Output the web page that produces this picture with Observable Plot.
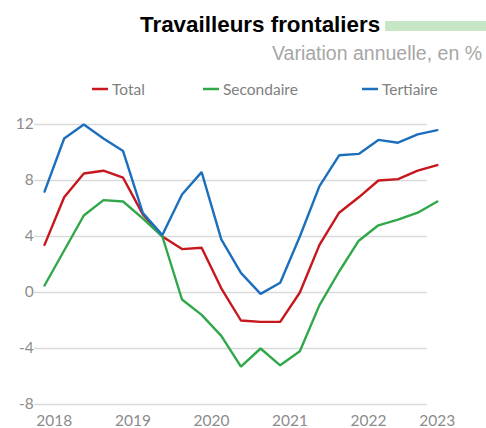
<!DOCTYPE html>
<html><head><meta charset="utf-8">
<script src="https://cdn.jsdelivr.net/npm/d3@7"></script>
<script src="https://cdn.jsdelivr.net/npm/@observablehq/plot@0.6"></script>
<style>
body{margin:0;background:#fff}
#wrap{position:relative;width:486px;height:428px;overflow:hidden}
#wrap svg{position:absolute;left:0;top:0}
</style>
</head><body><div id="wrap"></div>
<script>
const quarters = ["2018T1","2018T2","2018T3","2018T4","2019T1","2019T2","2019T3","2019T4","2020T1","2020T2","2020T3","2020T4","2021T1","2021T2","2021T3","2021T4","2022T1","2022T2","2022T3","2022T4","2023T1"];
const total      = [3.4, 6.8, 8.5, 8.7, 8.2, 5.6, 4.0, 3.1, 3.2, 0.3, -2.0, -2.1, -2.1, 0.0, 3.4, 5.7, 6.8, 8.0, 8.1, 8.7, 9.1];
const secondaire = [0.5, 3.0, 5.5, 6.6, 6.5, 5.3, 4.0, -0.5, -1.6, -3.1, -5.3, -4.0, -5.2, -4.2, -0.9, 1.5, 3.7, 4.8, 5.2, 5.7, 6.5];
const tertiaire  = [7.2, 11.0, 12.0, 11.0, 10.1, 5.7, 4.1, 7.0, 8.6, 3.8, 1.4, -0.1, 0.7, 4.0, 7.6, 9.8, 9.9, 10.9, 10.7, 11.3, 11.6];
const seriesNames = ["Total", "Secondaire", "Tertiaire"];
const seriesColors = ["#c8161d", "#30a84a", "#1c6fbd"];
const yTicks = [-8, -4, 0, 4, 8, 12];
const yearLabels = ["2018", "2019", "2020", "2021", "2022", "2023"];
const yearTickQuarter = [0.5, 4.5, 8.5, 12.5, 16.5, 20];
const title = "Travailleurs frontaliers";
const subtitle = "Variation annuelle, en %";

const seriesValues = [total, secondaire, tertiaire];
const data = [];
seriesNames.forEach((name, k) => seriesValues[k].forEach((v, i) => data.push({i, v, name, q: quarters[i]})));

const chart = Plot.plot({
  width: 486, height: 428,
  marginTop: 124, marginBottom: 24, marginLeft: 34.2, marginRight: 59,
  x: {type: "linear", domain: [-0.5, 19.5]},
  y: {domain: [-8, 12]},
  color: {domain: seriesNames, range: seriesColors},
  style: {fontFamily: "Lato, 'Open Sans', sans-serif", fontSize: "15.5px", color: "#8c8c8c", background: "transparent"},
  marks: [
    Plot.gridY(yTicks, {stroke: "#d9d9d9", strokeOpacity: 1, strokeWidth: 1.3}),
    Plot.axisY(yTicks, {tickSize: 0, tickPadding: 1, label: null, fill: "#8c8c8c", tickFormat: d => String(d)}),
    Plot.axisX(yearTickQuarter, {tickSize: 0, tickPadding: 10, label: null, fill: "#8c8c8c",
      tickFormat: d => yearLabels[yearTickQuarter.indexOf(d)]}),
    Plot.line(data, {x: "i", y: "v", z: "name", stroke: "name", strokeWidth: 2.4, strokeLinejoin: "miter"})
  ]
});
const wrap = document.getElementById("wrap");
wrap.appendChild(chart);

// header: title, green bar, subtitle, legend
const hdr = d3.select(wrap).append("svg").attr("width", 486).attr("height", 110)
  .style("font-family", "'Liberation Sans', Arial, sans-serif");
const t = hdr.append("text").attr("x", 140).attr("y", 32).attr("font-size", 22.4).attr("font-weight", "bold")
  .attr("fill", "#000").text(title);
const tw = t.node().getComputedTextLength();
hdr.append("rect").attr("x", 140 + tw + 5).attr("y", 21).attr("width", 486).attr("height", 10).attr("fill", "#c6e6c6");
hdr.append("text").attr("x", 482).attr("y", 60).attr("text-anchor", "end").attr("font-size", 19.5)
  .attr("fill", "#a6a6a6").text(subtitle);
const legendX = [92, 203, 362];
const lg = hdr.append("g").style("font-family", "Lato, 'Open Sans', sans-serif").style("font-size", "15.5px");
seriesNames.forEach((name, k) => {
  lg.append("line").attr("x1", legendX[k]).attr("x2", legendX[k] + 16).attr("y1", 89).attr("y2", 89)
    .attr("stroke", seriesColors[k]).attr("stroke-width", 2.5);
  lg.append("text").attr("x", legendX[k] + 20).attr("y", 95).attr("fill", "#808080").text(name);
});
</script>
</body></html>
